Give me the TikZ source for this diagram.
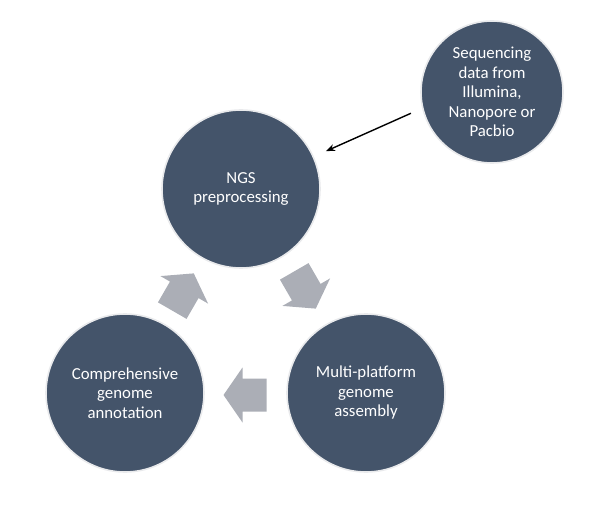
\documentclass[tikz,border=0pt]{standalone}
\usepackage{fontspec}
\setmainfont{Carlito}
\usetikzlibrary{arrows.meta}
\definecolor{circfill}{HTML}{44546A}
\definecolor{circline}{HTML}{E9EAEC}
\definecolor{blockarrow}{HTML}{ABAEB6}
\tikzset{
  stagecircle/.style={circle, fill=circfill, draw=circline, line width=1.6pt,
    inner sep=0pt, outer sep=0pt, text=white, align=center,
    font=\fontsize{16.8}{19.5}\selectfont},
  cyclearrow/.style={fill=blockarrow, draw=none},
  feedarrow/.style={-{Stealth[length=9pt,width=7pt]}, line width=1.4pt, black}
}
\begin{document}
\begin{tikzpicture}[x=1pt,y=-1pt]
\useasboundingbox (0,0) rectangle (599,510);
\node[stagecircle, minimum size=158pt] (ngs) at (241,189) {NGS\\preprocessing};
\node[stagecircle, minimum size=158pt] (asm) at (366,393) {Multi-platform\\genome\\assembly};
\node[stagecircle, minimum size=158pt] (ann) at (125,393) {Comprehensive\\genome\\annotation};
\node[stagecircle, minimum size=142pt] (seq) at (492,92) {Sequencing\\data from\\Illumina,\\Nanopore or\\Pacbio};
\draw[feedarrow, shorten <=13pt, shorten >=14pt] (seq.193) -- (ngs.24);
\foreach \cx/\cy/\ang in {245/395/180, 183/292/60, 305/290/-60}{
  \begin{scope}[shift={(\cx,\cy)}, rotate=\ang]
    \fill[cyclearrow] (-21.5pt,-16.5pt) -- (2.5pt,-16.5pt) -- (2.5pt,-27.5pt) -- (21.5pt,0pt)
      -- (2.5pt,27.5pt) -- (2.5pt,16.5pt) -- (-21.5pt,16.5pt) -- cycle;
  \end{scope}
}
\end{tikzpicture}
\end{document}
